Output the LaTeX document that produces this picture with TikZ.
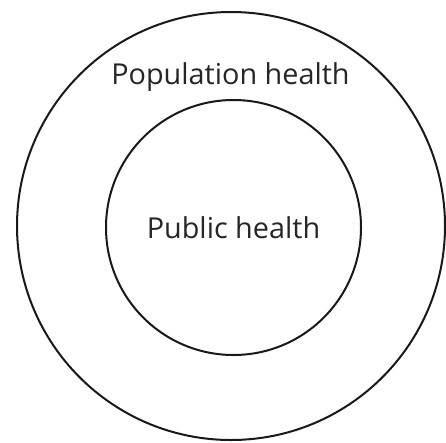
\documentclass[tikz,border=0pt]{standalone}
\usepackage{fontspec}
\setmainfont{Open Sans}
\usetikzlibrary{positioning}
\tikzstyle{ring} = [circle, draw=black!90, line width=2pt, inner sep=0pt]
\tikzstyle{areatext} = [inner sep=0pt, text=black!85, font=\fontsize{28.8}{34}\selectfont]

\begin{document}
\begin{tikzpicture}[x=1pt, y=-1pt]
        \useasboundingbox (0,0) rectangle (446,442);
        \node (outer) [ring, minimum size=428pt] at (231,226) {};
        \node (inner) [ring, minimum size=255pt] at (233.5,227.5) {};
        \node (public) [areatext] at (inner) {Public health};
        \node (population) [areatext, above=7pt of inner.north, xshift=-3pt] {Population health};
    \end{tikzpicture}
\end{document}
